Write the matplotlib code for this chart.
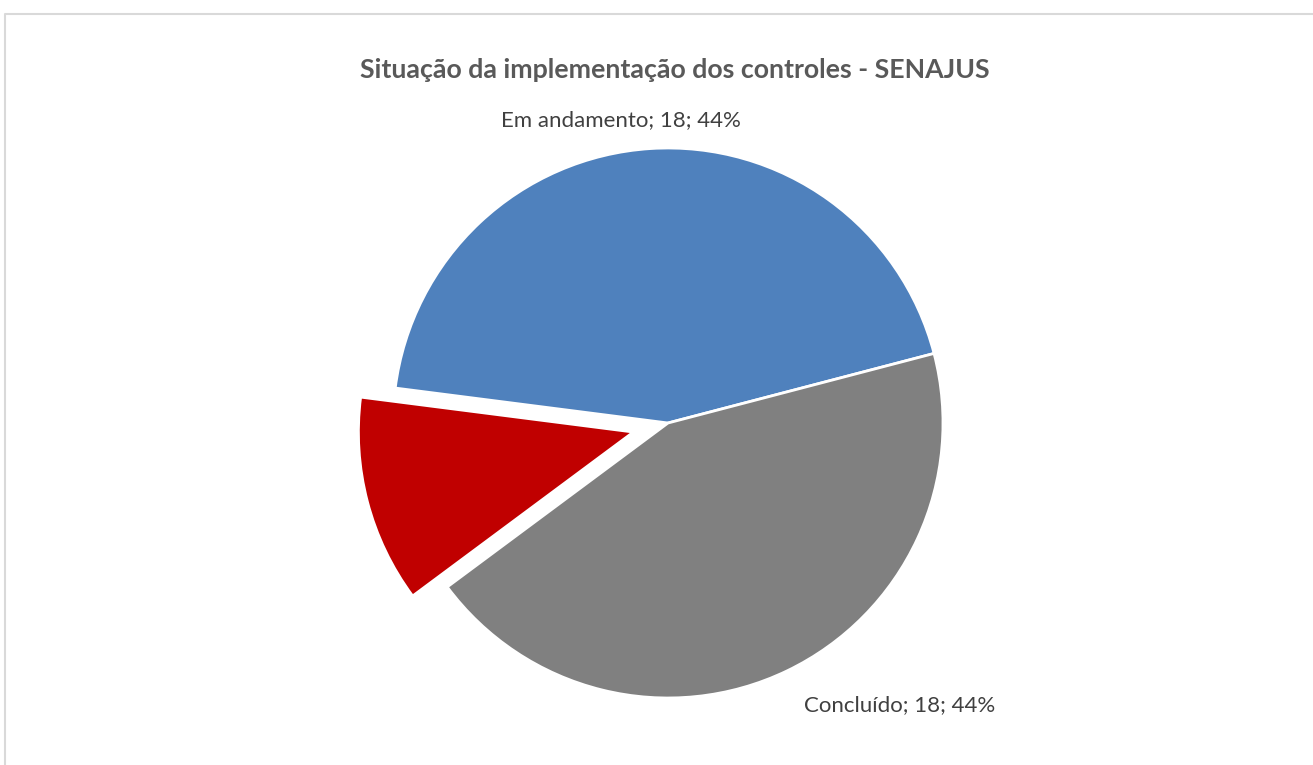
import numpy as np
import matplotlib
matplotlib.use("Agg")
import matplotlib.pyplot as plt
from matplotlib.lines import Line2D

categories = ["Em andamento", "Concluído", "Não iniciado"]
values = [18, 18, 5]
colors = ["#4F81BD", "#808080", "#C00000"]
explode = [0, 0, 0.13]
show_label = [True, True, False]
title = "Situação da implementação dos controles - SENAJUS"

W, H = 1313, 765
fig = plt.figure(figsize=(W / 100, H / 100), dpi=100)
ax = fig.add_axes([0, 0, 1, 1])

R = 275.0
cx, cy = 668.0, H - 423.0

total = sum(values)
wedges, _ = ax.pie(values, colors=colors, explode=explode, startangle=172.7,
                   counterclock=False, radius=1.0,
                   wedgeprops=dict(edgecolor="white", linewidth=2))
ax.set_aspect("auto")
ax.set_xlim(-cx / R, (W - cx) / R)
ax.set_ylim(-cy / R, (H - cy) / R)
ax.set_axis_off()

font = "Lato"
for w, cat, v, show in zip(wedges, categories, values, show_label):
    if not show:
        continue
    mid = np.deg2rad((w.theta1 + w.theta2) / 2)
    pct = round(100 * v / total)
    txt = f"{cat}; {v}; {pct}%"
    x, y = np.cos(mid), np.sin(mid)
    if y > 0:
        ax.text(x * 1.1 - 0.1, 1.065, txt, ha="center", va="bottom",
                fontsize=16, color="#404040", family=font)
    else:
        ax.text(x * 1.1 + 0.02, -0.99, txt, ha="left", va="top",
                fontsize=16, color="#404040", family=font)

fig.text(675 / W, 1 - 70 / H, title, ha="center", va="center",
         fontsize=19.3, fontweight="bold", color="#595959", family=font)

# chart area border (partially cropped)
fig.add_artist(Line2D([4.5 / W, 4.5 / W, 1.0], [0.0, 1 - 13.5 / H, 1 - 13.5 / H],
                      transform=fig.transFigure, color="#D9D9D9", linewidth=1.5))

fig.savefig("out.png", dpi=100, facecolor="white")
